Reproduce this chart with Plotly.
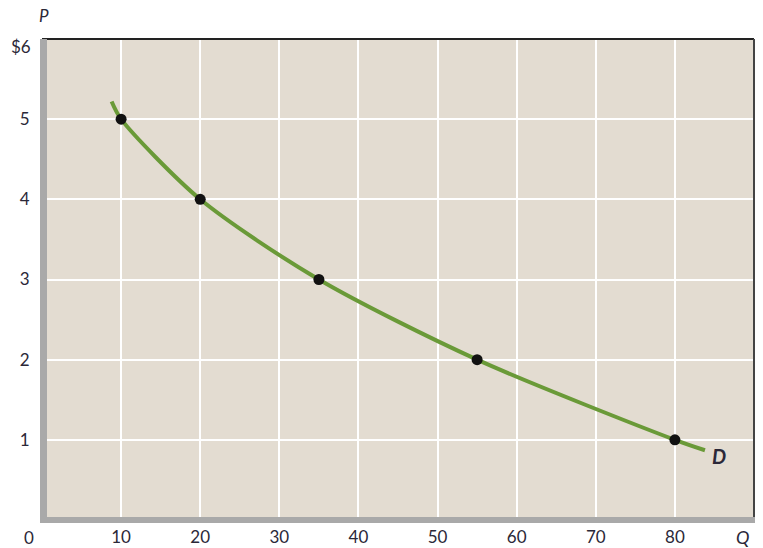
import plotly.graph_objects as go

# Demand schedule points
quantity = [10, 20, 35, 55, 80]
price = [5, 4, 3, 2, 1]

# Demand curve (including its end points)
curve_q = [8.8, 10, 20, 35, 55, 80, 83.8]
curve_p = [5.22, 5, 4, 3, 2, 1, 0.87]

x_ticks = [10, 20, 30, 40, 50, 60, 70, 80]
y_ticks = [1, 2, 3, 4, 5]

TXT = "#2b2838"
FONT = "Lato"

fig = go.Figure()
fig.add_trace(go.Scatter(x=curve_q, y=curve_p, mode="lines",
                         line=dict(color="#6a9a38", width=4, shape="spline", smoothing=0.8),
                         hoverinfo="skip", showlegend=False))
fig.add_trace(go.Scatter(x=quantity, y=price, mode="markers",
                         marker=dict(color="#111111", size=11),
                         showlegend=False))

fig.update_layout(
    width=763, height=548,
    margin=dict(l=42, r=9, t=39, b=28, autoexpand=False),
    paper_bgcolor="white", plot_bgcolor="#e3dcd1",
    font=dict(family=FONT, size=17, color=TXT),
    xaxis=dict(range=[0, 90], tickvals=x_ticks, ticktext=[str(v) for v in x_ticks],
               showgrid=True, gridcolor="white", gridwidth=2, zeroline=False,
               ticks="outside", ticklen=2, tickcolor="rgba(0,0,0,0)", showline=False,
               fixedrange=True, automargin=False),
    yaxis=dict(range=[0, 6], tickvals=y_ticks, ticktext=[str(v) for v in y_ticks],
               showgrid=True, gridcolor="white", gridwidth=2, zeroline=False,
               ticks="outside", ticklen=8, tickcolor="rgba(0,0,0,0)", showline=False,
               fixedrange=True, automargin=False),
    shapes=[
        dict(type="line", xref="paper", yref="paper", x0=0, x1=1, y0=1, y1=1,
             line=dict(color="#222222", width=2)),
        dict(type="line", xref="paper", yref="paper", x0=1, x1=1, y0=0, y1=1,
             line=dict(color="#444444", width=2)),
        dict(type="rect", xref="paper", yref="paper", x0=-2/712, x1=5/712, y0=-3/481, y1=1,
             fillcolor="#a9a9a9", line=dict(width=0)),
        dict(type="rect", xref="paper", yref="paper", x0=-2/712, x1=1 + 1/712, y0=-3/481, y1=3/481,
             fillcolor="#a9a9a9", line=dict(width=0)),
    ],
    annotations=[
        dict(text="<b><i>D</i></b>", x=719, y=456, xref="paper", yref="paper", showarrow=False,
             font=dict(size=20, color=TXT)),
        dict(text="<i>P</i>", x=44, y=16, xref="paper", yref="paper", showarrow=False,
             font=dict(size=17, color=TXT)),
        dict(text="$6", x=21, y=46, xref="paper", yref="paper", showarrow=False,
             font=dict(size=17, color=TXT)),
        dict(text="0", x=29, y=537, xref="paper", yref="paper", showarrow=False,
             font=dict(size=17, color=TXT)),
        dict(text="<i>Q</i>", x=742, y=537, xref="paper", yref="paper", showarrow=False,
             font=dict(size=18, color=TXT)),
    ],
)

# convert pixel-based annotation positions to paper coordinates
L, T, W, H = 42, 39, 712, 481
for a in fig.layout.annotations:
    a.x = (a.x - L) / W
    a.y = 1 - (a.y - T) / H
    a.xanchor = "center"
    a.yanchor = "middle"

fig.write_html("out.html", config={"displayModeBar": False},
               post_script="document.body.style.margin='0';document.body.style.overflow='hidden';")
